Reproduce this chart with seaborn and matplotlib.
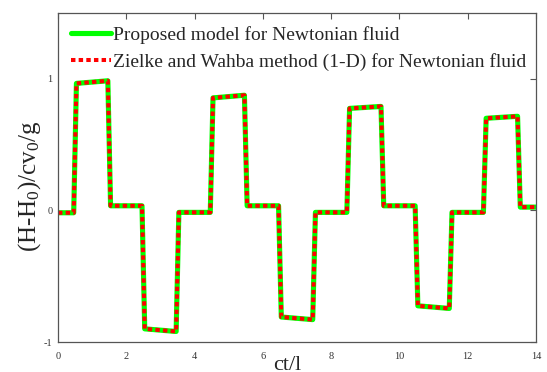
import matplotlib
matplotlib.use("Agg")
import matplotlib.pyplot as plt
import seaborn as sns
import pandas as pd

# key points (ct/l, (H-H0)/cv0/g)
t_vals = [0, 0.46, 0.54, 1.46, 1.54, 2.46, 2.54, 3.46, 3.54, 4.46, 4.54, 5.46, 5.54,
          6.46, 6.54, 7.46, 7.54, 8.46, 8.54, 9.46, 9.54, 10.46, 10.54, 11.46, 11.54,
          12.46, 12.54, 13.46, 13.54, 14]
proposed = [-0.018, -0.018, 0.965, 0.985, 0.035, 0.035, -0.9, -0.92, -0.015, -0.015,
            0.855, 0.875, 0.035, 0.035, -0.81, -0.83, -0.015, -0.015, 0.775, 0.79,
            0.035, 0.035, -0.725, -0.745, -0.015, -0.015, 0.70, 0.715, 0.025, 0.025]
zielke = [-0.018, -0.018, 0.965, 0.985, 0.035, 0.035, -0.9, -0.92, -0.015, -0.015,
          0.855, 0.875, 0.035, 0.035, -0.81, -0.83, -0.015, -0.015, 0.775, 0.79,
          0.035, 0.035, -0.725, -0.745, -0.015, -0.015, 0.70, 0.715, 0.025, 0.025]
labels = ["Proposed model for Newtonian fluid",
          "Zielke and Wahba method (1-D) for Newtonian fluid"]
xticks = [0, 2, 4, 6, 8, 10, 12, 14]
yticks = [-1, 0, 1]

sns.set_style("white")
plt.rcParams['font.family'] = ['Liberation Serif', 'DejaVu Serif']
plt.rcParams['mathtext.fontset'] = 'custom'
plt.rcParams['mathtext.rm'] = 'Liberation Serif'
plt.rcParams['mathtext.default'] = 'regular'

df1 = pd.DataFrame({"t": t_vals, "v": proposed})
df2 = pd.DataFrame({"t": t_vals, "v": zielke})

fig = plt.figure(figsize=(5.47, 3.72), dpi=100)
ax = fig.add_axes([58/547, 1-342/372, (536-58)/547, (342-13)/372])

sns.lineplot(data=df1, x="t", y="v", ax=ax, color="#00ff00", lw=3.7,
             label=labels[0], solid_joinstyle="round", solid_capstyle="round")
sns.lineplot(data=df2, x="t", y="v", ax=ax, color="#ff0000", lw=2.9,
             label=labels[1], linestyle=(0, (1.1, 0.8)), dash_capstyle="butt")

ax.set_xlim(0, 14)
ax.set_ylim(-1, 1.5)
ax.set_xticks(xticks)
ax.set_yticks(yticks)
ax.set_xticklabels([str(v) for v in xticks])
ax.set_yticklabels([str(v) for v in yticks])
ax.tick_params(direction="in", length=4, width=0.8, colors="#555555", labelsize=7.5,
               top=True, right=True, labelcolor="#333333")
ax.tick_params(axis="x", pad=7)
ax.tick_params(axis="y", pad=4)
for s in ax.spines.values():
    s.set_color("#555555")
    s.set_linewidth(0.9)

ax.set_xlabel("")
ax.set_ylabel("")
fig.text(287/547, 1-356/372, "ct/l", fontsize=16, ha="center", va="top")
fig.text(30/547, 1-186/372, "(H-H$_0$)/cv$_0$/g", fontsize=18, ha="center",
         va="center", rotation=90)

leg = ax.legend(loc="upper left", frameon=False, fontsize=14, handlelength=2.05,
                handletextpad=0.15, borderaxespad=0.1, borderpad=0.55,
                labelspacing=0.5, bbox_to_anchor=(0.0, 1.0))

fig.savefig("out.png", dpi=100)
